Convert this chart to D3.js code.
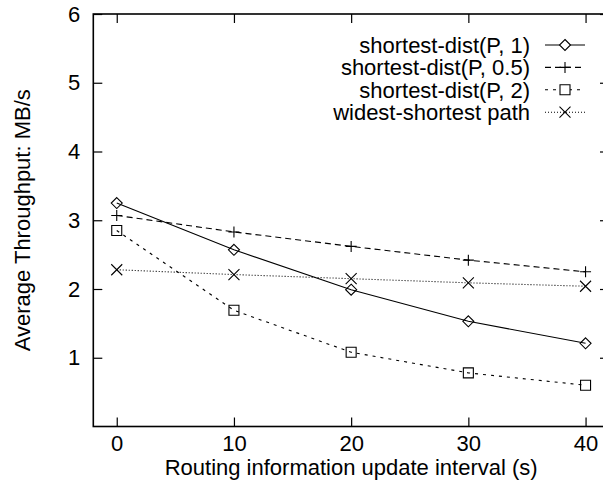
<!DOCTYPE html>
<html lang="en">
<head>
<meta charset="UTF-8">
<title>Throughput vs update interval</title>
<script src="https://cdnjs.cloudflare.com/ajax/libs/d3/7.8.5/d3.min.js"></script>
<style>
  body { margin: 0; background: #fff; }
  svg { display: block; }
  text { font-family: "Liberation Sans", Arial, Helvetica, sans-serif; font-size: 22px; fill: #000; }
  .axis path { display: none; }
  .axis line { stroke: #000; stroke-width: 1.2; }
</style>
</head>
<body>
<svg width="603" height="489"></svg>
<script>
// data
const intervals = [0, 10, 20, 30, 40];
const sdP1   = [3.25, 2.57, 1.99, 1.53, 1.21];
const sdP05  = [3.07, 2.83, 2.62, 2.42, 2.25];
const sdP2   = [2.85, 1.69, 1.08, 0.78, 0.60];
const widest = [2.28, 2.21, 2.15, 2.09, 2.04];
const seriesNames = ["shortest-dist(P, 1)", "shortest-dist(P, 0.5)", "shortest-dist(P, 2)", "widest-shortest path"];
const xTicks = [0, 10, 20, 30, 40];
const yTicks = [1, 2, 3, 4, 5, 6];

const svg = d3.select("svg");
const plotL = 93.3, plotR = 609, plotT = 14, plotB = 426.5;

const x = d3.scaleLinear().domain([-2, 42]).range([plotL, plotR]);
const y = d3.scaleLinear().domain([0, 6]).range([plotB, plotT]);

// marker shapes, r = half size
const markers = {
  diamond: r => `M0,${-r}L${r},0L0,${r}L${-r},0Z`,
  plus: r => `M${-r},0H${r}M0,${-r}V${r}`,
  square: r => `M${-r},${-r}H${r}V${r}H${-r}Z`,
  cross: r => `M${-r},${-r}L${r},${r}M${-r},${r}L${r},${-r}`
};

const series = [
  {name: seriesNames[0], values: sdP1,   dash: null,  marker: "diamond", r: 5.5},
  {name: seriesNames[1], values: sdP05,  dash: "6,4", marker: "plus",    r: 5.5},
  {name: seriesNames[2], values: sdP2,   dash: "3,5", marker: "square",  r: 5},
  {name: seriesNames[3], values: widest, dash: "1,2", marker: "cross",   r: 5.5}
];

const fmt = d3.format("d");

// axes (ticks inward, mirrored)
svg.append("g").attr("class", "axis")
  .attr("transform", `translate(0,${plotB})`)
  .call(d3.axisBottom(x).tickValues(xTicks).tickFormat(fmt).tickSize(-9).tickPadding(8.5));
svg.append("g").attr("class", "axis")
  .attr("transform", `translate(0,${plotT})`)
  .call(d3.axisTop(x).tickValues(xTicks).tickSize(-9).tickFormat(""));
svg.append("g").attr("class", "axis")
  .attr("transform", `translate(${plotL},0)`)
  .call(d3.axisLeft(y).tickValues(yTicks).tickFormat(fmt).tickSize(-9).tickPadding(13));
svg.append("g").attr("class", "axis")
  .attr("transform", `translate(${plotR},0)`)
  .call(d3.axisRight(y).tickValues(yTicks).tickSize(-9).tickFormat(""));

svg.selectAll(".axis").attr("font-family", null).attr("font-size", null);

// frame
svg.append("rect")
  .attr("x", plotL).attr("y", plotT)
  .attr("width", plotR - plotL).attr("height", plotB - plotT)
  .attr("fill", "none").attr("stroke", "#000").attr("stroke-width", 1.6);

const line = d3.line().x((d, i) => x(intervals[i])).y(d => y(d));

series.forEach(s => {
  const g = svg.append("g");
  g.append("path")
    .attr("d", line(s.values))
    .attr("fill", "none")
    .attr("stroke", "#000")
    .attr("stroke-width", 1.1)
    .attr("stroke-dasharray", s.dash);
  g.selectAll("path.m")
    .data(s.values)
    .enter()
    .append("path")
    .attr("class", "m")
    .attr("transform", (d, i) => `translate(${x(intervals[i])},${y(d)})`)
    .attr("d", markers[s.marker](s.r))
    .attr("fill", "none")
    .attr("stroke", "#000")
    .attr("stroke-width", 1.1);
});

// legend
const legend = svg.append("g");
series.forEach((s, i) => {
  const ly = 45 + i * 22.4;
  legend.append("text")
    .attr("x", 530).attr("y", ly).attr("dy", "0.35em")
    .attr("text-anchor", "end")
    .text(s.name);
  legend.append("line")
    .attr("x1", 545).attr("x2", 585).attr("y1", ly).attr("y2", ly)
    .attr("stroke", "#000").attr("stroke-width", 1.1)
    .attr("stroke-dasharray", s.dash);
  legend.append("path")
    .attr("transform", `translate(565,${ly})`)
    .attr("d", markers[s.marker](s.r))
    .attr("fill", "#fff")
    .attr("stroke", "#000")
    .attr("stroke-width", 1.1);
});

// axis titles
svg.append("text")
  .attr("x", (plotL + plotR) / 2).attr("y", 475)
  .attr("text-anchor", "middle")
  .text("Routing information update interval (s)");
svg.append("text")
  .attr("transform", `translate(30,${(plotT + plotB) / 2}) rotate(-90)`)
  .attr("text-anchor", "middle")
  .text("Average Throughput: MB/s");
</script>
</body>
</html>
